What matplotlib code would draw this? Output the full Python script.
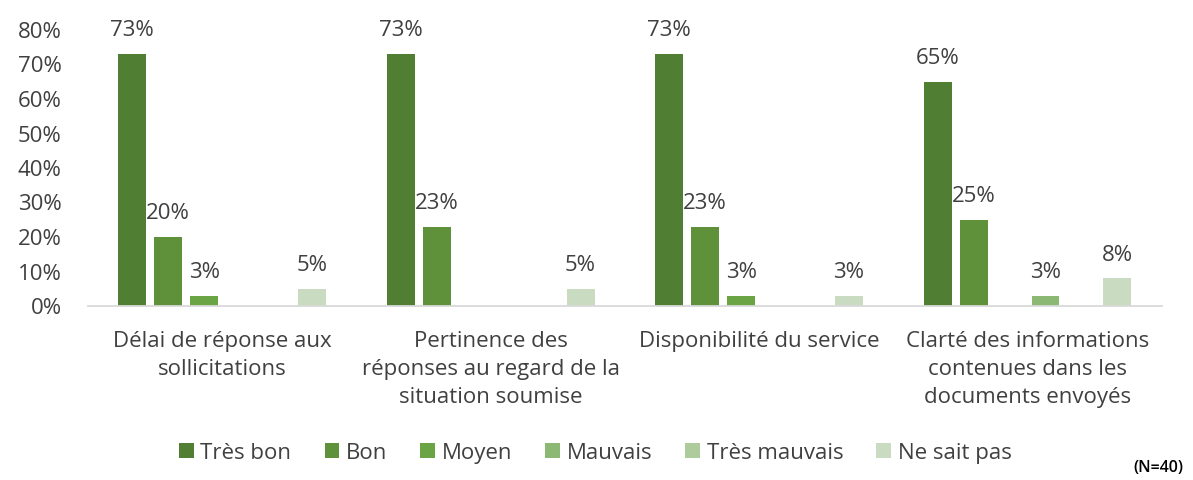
import numpy as np
import matplotlib.pyplot as plt

categories = ["Délai de réponse aux\nsollicitations",
              "Pertinence des\nréponses au regard de la\nsituation soumise",
              "Disponibilité du service",
              "Clarté des informations\ncontenues dans les\ndocuments envoyés"]
series = ["Très bon", "Bon", "Moyen", "Mauvais", "Très mauvais", "Ne sait pas"]
values = [
    [73, 73, 73, 65],   # Très bon
    [20, 23, 23, 25],   # Bon
    [3, 0, 3, 0],       # Moyen
    [0, 0, 0, 3],       # Mauvais
    [0, 0, 0, 0],       # Très mauvais
    [5, 5, 3, 8],       # Ne sait pas
]
colors = ["#507E32", "#5E9139", "#6AA444", "#8BB872", "#AECB9B", "#C9DCC1"]

plt.rcParams['font.family'] = ['Open Sans', 'DejaVu Sans']
txt = "#404040"
fs = 16

fig = plt.figure(figsize=(11.93, 4.8), dpi=100)
ax = fig.add_axes([0.0738, 0.3625, 0.9, 0.575])

x = np.arange(len(categories))
pitch = 0.134
width = 0.104
for i, (name, vals) in enumerate(zip(series, values)):
    pos = x + (i - 2.5) * pitch
    v = np.array(vals) / 100
    ax.bar(pos, v, width, color=colors[i], label=name, zorder=2)
    for p, val in zip(pos, vals):
        if val > 0:
            ax.text(p, val / 100 + 0.037, f"{val}%", ha="center", va="bottom",
                    fontsize=fs, color=txt)

ax.set_xlim(-0.5, len(categories) - 0.5)
ax.set_ylim(0, 0.8)
ax.set_yticks(np.arange(0, 0.81, 0.1))
ax.set_yticklabels([f"{int(round(t*100))}%" for t in np.arange(0, 0.81, 0.1)])
ax.set_xticks(x)
ax.set_xticklabels(categories, linespacing=1.45)
ax.tick_params(axis="y", length=0, pad=19, labelsize=fs, labelcolor=txt)
ax.tick_params(axis="x", length=0, pad=18, labelsize=fs, labelcolor=txt)
for s in ["top", "right", "left"]:
    ax.spines[s].set_visible(False)
ax.spines["bottom"].set_color("#d9d9d9")
ax.spines["bottom"].set_linewidth(1.3)

fig.legend(loc="center", bbox_to_anchor=(0.499, 0.056), ncol=6, frameon=False,
           fontsize=fs, labelcolor=txt, handlelength=0.65, handleheight=0.65,
           handletextpad=0.3, columnspacing=1.5)

fig.text(0.992, 0.008, "(N=40)", ha="right", va="bottom", fontsize=11.5,
         fontweight="semibold", color="black", family=["Open Sans", "DejaVu Sans"])

fig.savefig("out.png", dpi=100)
